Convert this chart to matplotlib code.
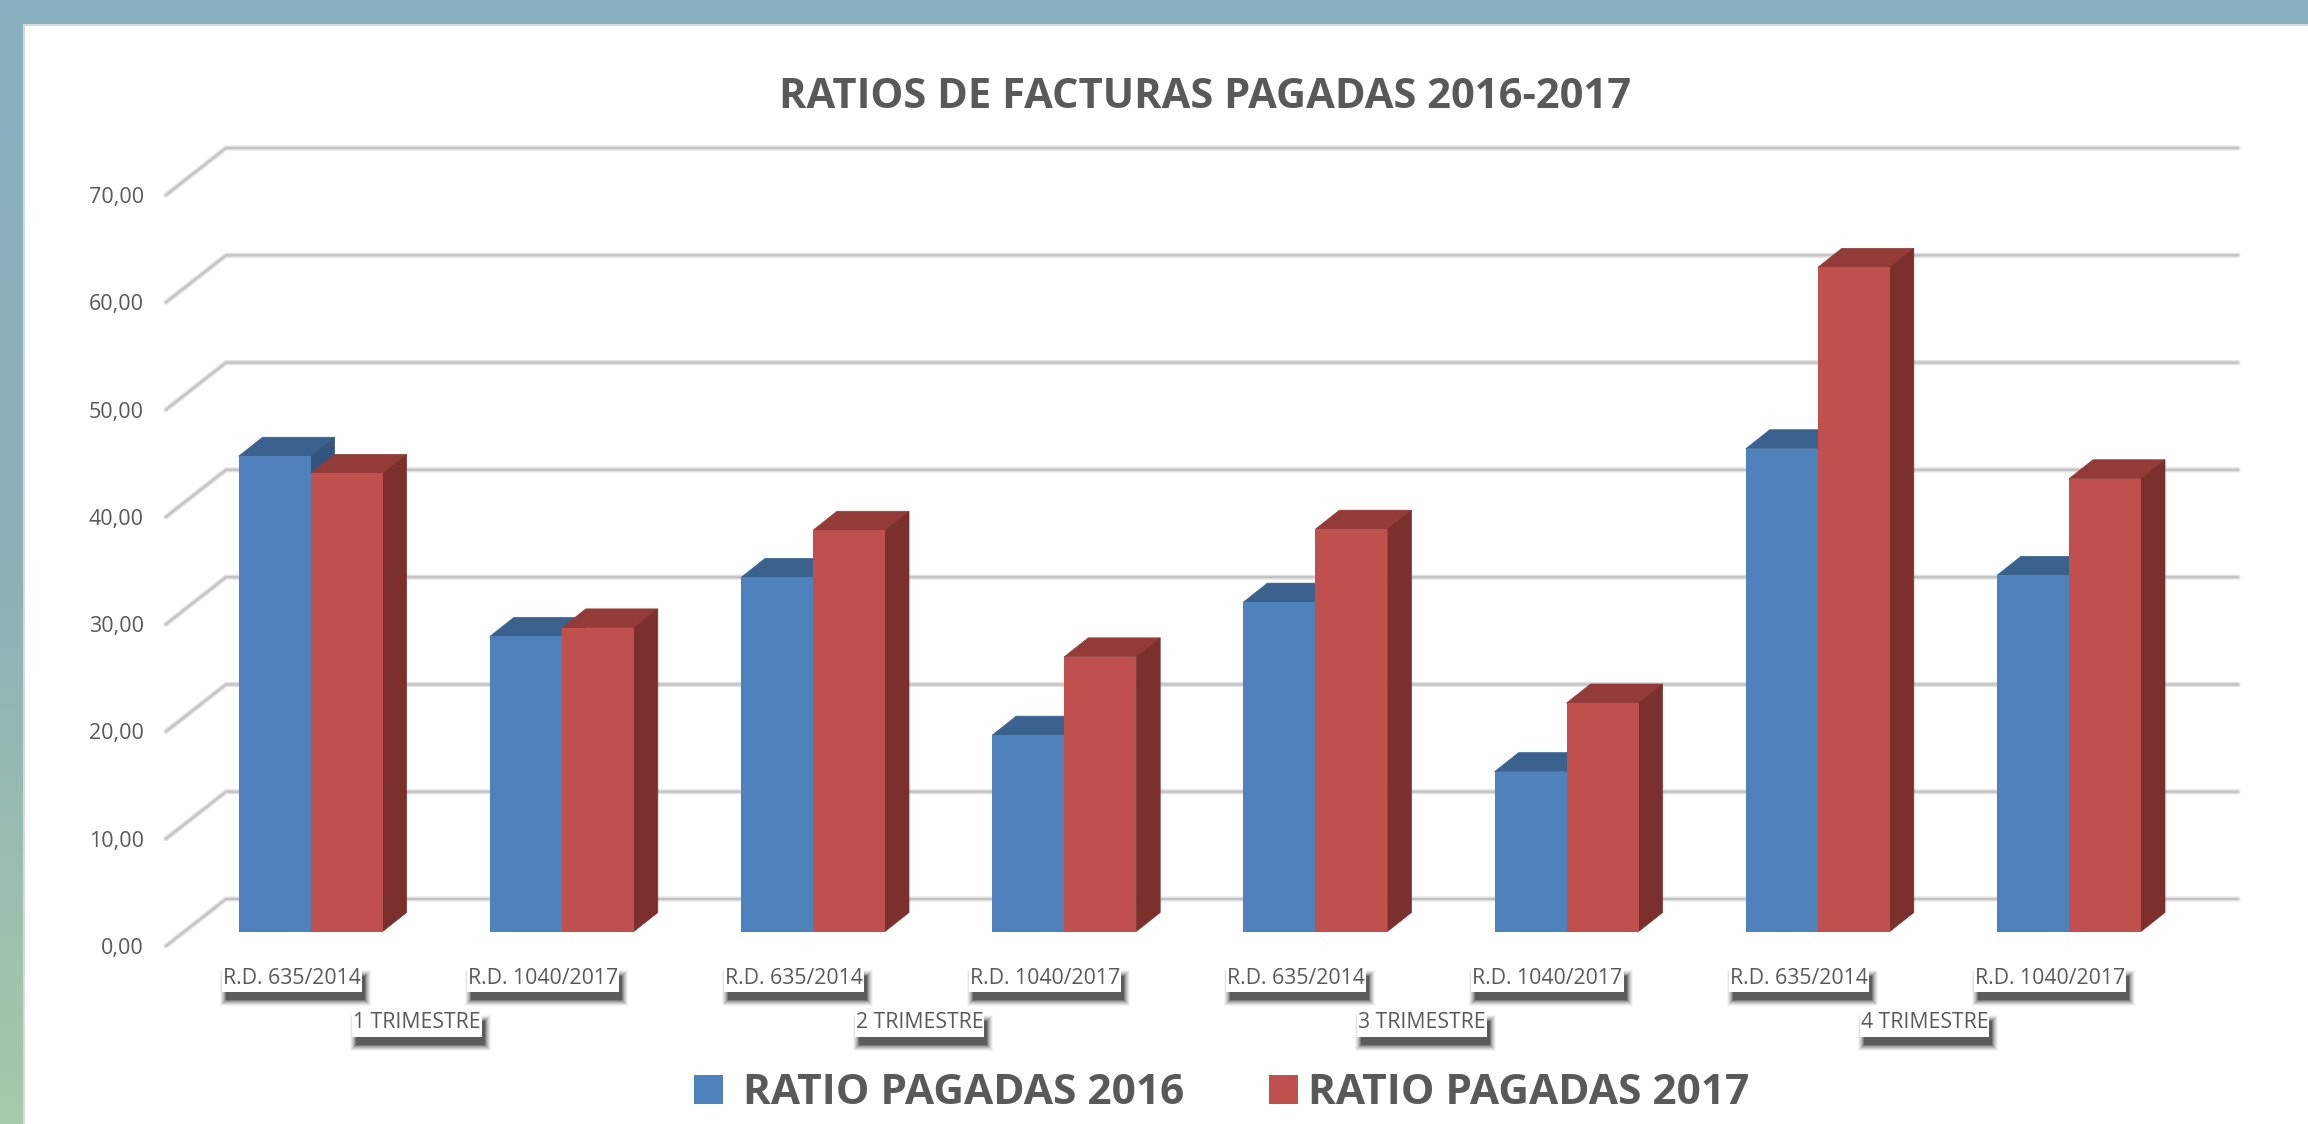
import matplotlib
matplotlib.use('Agg')
import matplotlib.pyplot as plt
import numpy as np
from matplotlib.colors import LinearSegmentedColormap
from matplotlib.patches import Polygon, Rectangle

plt.rcParams['font.family'] = ['Open Sans', 'DejaVu Sans']

title = 'RATIOS DE FACTURAS PAGADAS 2016-2017'
norms = ['R.D. 635/2014', 'R.D. 1040/2017'] * 4
trimestres = ['1 TRIMESTRE', '2 TRIMESTRE', '3 TRIMESTRE', '4 TRIMESTRE']
ratio_2016 = [44.3, 27.5, 33.0, 18.3, 30.7, 14.9, 45.0, 33.2]
ratio_2017 = [42.7, 28.3, 37.4, 25.6, 37.5, 21.3, 61.9, 42.2]
yticks = [0, 10, 20, 30, 40, 50, 60, 70]
legend_names = ['RATIO PAGADAS 2016', 'RATIO PAGADAS 2017']

W, H = 2308, 1124
TEXT = '#595959'
blue = ['#4F81BD', '#3B618F', '#32557E']
red = ['#C0504D', '#933B39', '#7C302E']

fig = plt.figure(figsize=(W / 100, H / 100), dpi=100, facecolor='white')

# marco con degradado
bg = fig.add_axes([0, 0, 1, 1], zorder=0)
cmap = LinearSegmentedColormap.from_list('marco', ['#89B0C0', '#8BB1B8', '#A6C9A9'])
bg.imshow(np.linspace(0, 1, 256).reshape(-1, 1), cmap=cmap, aspect='auto', extent=[0, W, H, 0])
bg.add_patch(Rectangle((24, 25), W, H, fc='white', ec='#D9D9D9', lw=1.5))
bg.set_xlim(0, W)
bg.set_ylim(H, 0)
bg.axis('off')

# plano frontal: y=0 en 946 px, y=70 en 195 px
px_x = 251.2
px_y = 10.73
left, right = 166, 2178
ax = fig.add_axes([left / W, 1 - 946 / H, (right - left) / W, 751 / H], zorder=1)
ax.patch.set_alpha(0)
ax.set_xlim((left - 310.6) / px_x, (right - 310.6) / px_x)
ax.set_ylim(0, 70)
for s in ax.spines.values():
    s.set_visible(False)

# rejilla
xl, xr = ax.get_xlim()
back_x = 60 / px_x
back_y = 47 / px_y
for v in yticks:
    for lw, c in [(5.0, '#E0E0E0'), (2.0, '#C2C2C2')]:
        ax.plot([xl, xl + back_x, xr + back_x], [v, v + back_y, v + back_y],
                color=c, lw=lw * 0.72, solid_capstyle='round', solid_joinstyle='miter',
                clip_on=False, zorder=1)

ax.set_yticks(yticks)
ax.set_yticklabels(['%d,00' % v for v in yticks], fontsize=15.5, color=TEXT)
ax.tick_params(axis='y', length=0, pad=16)
ax.set_xticks([])

# barras 3D
floor = 14.5 / px_y
bar_w = 72 / px_x
dx = 24 / px_x
dy = 19 / px_y


def bar3d(x, v, cols, z):
    top = floor + v
    ax.add_patch(Polygon([(x, top), (x + bar_w, top), (x + bar_w + dx, top + dy), (x + dx, top + dy)],
                         fc=cols[1], ec=cols[1], lw=0.5, zorder=z, clip_on=False))
    ax.add_patch(Polygon([(x + bar_w, floor), (x + bar_w + dx, floor + dy), (x + bar_w + dx, top + dy), (x + bar_w, top)],
                         fc=cols[2], ec=cols[2], lw=0.5, zorder=z, clip_on=False))
    ax.bar(x, v, width=bar_w, bottom=floor, align='edge', color=cols[0], zorder=z, clip_on=False)


for i in range(len(norms)):
    bar3d(i - bar_w, ratio_2016[i], blue, 3 + i)
    bar3d(i, ratio_2017[i], red, 3.5 + i)

# etiquetas con sombra
renderer = fig.canvas.get_renderer()


def shadow_label(s, x, off_y, off_x=-19):
    t = ax.annotate(s, xy=(x, 0), xytext=(off_x, off_y), xycoords='data', textcoords='offset pixels',
                    ha='center', va='center', fontsize=15.3, color=TEXT, annotation_clip=False, zorder=21)
    box = t.get_window_extent(renderer)
    x0, x1 = box.x0 - 1, box.x1 + 1
    y0, y1 = H - box.y1, H - box.y0 + 3
    for g, a in [(5, 0.05), (4, 0.08), (3, 0.10), (2, 0.14), (1, 0.20), (0, 0.30), (-1, 0.45)]:
        bg.add_patch(Rectangle((x0 + 3 - g, y0 + 7 - g), x1 - x0 + 1 + 2 * g, y1 - y0 + 2 + 2 * g,
                               fc='#333333', ec='none', alpha=a))
    bg.add_patch(Rectangle((x0, y0), x1 - x0, y1 - y0, fc='white', ec='none'))


for i, s in enumerate(norms):
    shadow_label(s, i, -32)
for i, s in enumerate(trimestres):
    shadow_label(s, 2 * i + 0.5, -77)

# titulo y leyenda
fig.text(1205 / W, 1 - 97 / H, title, ha='center', va='center', fontsize=30, fontweight='bold', color=TEXT)
for x0, col in [(694, blue[0]), (1269, red[0])]:
    bg.add_patch(Rectangle((x0, 1075), 29, 29, fc=col, ec='none'))
fig.text(743 / W, 1 - 1094 / H, legend_names[0], ha='left', va='center', fontsize=30.5, fontweight='bold', color=TEXT)
fig.text(1308 / W, 1 - 1094 / H, legend_names[1], ha='left', va='center', fontsize=30.5, fontweight='bold', color=TEXT)

fig.savefig('out.png', dpi=100)
